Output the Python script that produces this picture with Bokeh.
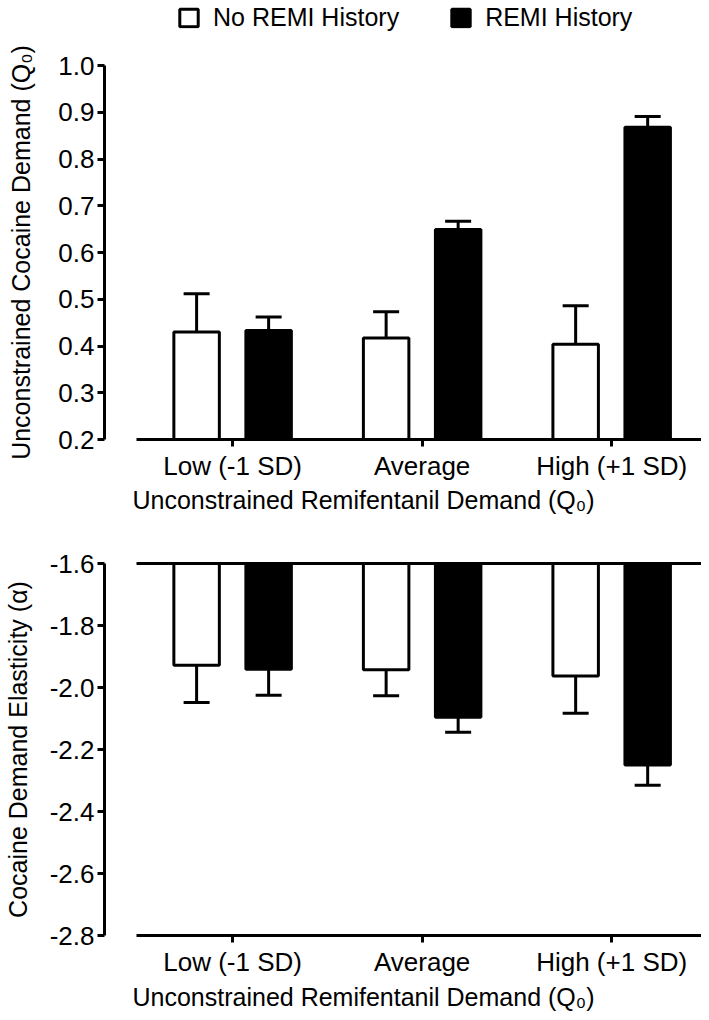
from bokeh.plotting import figure
from bokeh.layouts import column
from bokeh.models import (ColumnDataSource, Range1d, FixedTicker, PrintfTickFormatter,
                          Whisker, TeeHead, Legend, LegendItem, LinearAxis, Title)
from bokeh.transform import dodge
from bokeh.embed import file_html
from bokeh.resources import INLINE

# ---------------- data ----------------
categories = ["Low (-1 SD)", "Average", "High (+1 SD)"]
series = ["No REMI History", "REMI History"]

q0_no_remi = [0.430, 0.417, 0.404]
q0_no_remi_err = [0.082, 0.056, 0.082]
q0_remi = [0.433, 0.649, 0.868]
q0_remi_err = [0.029, 0.018, 0.023]

alpha_no_remi = [-1.928, -1.943, -1.963]
alpha_no_remi_err = [0.120, 0.084, 0.120]
alpha_remi = [-1.941, -2.096, -2.250]
alpha_remi_err = [0.084, 0.048, 0.065]

q0_ticks = [0.2, 0.3, 0.4, 0.5, 0.6, 0.7, 0.8, 0.9, 1.0]
alpha_ticks = [-2.8, -2.6, -2.4, -2.2, -2.0, -1.8, -1.6]

x_title = "Unconstrained Remifentanil Demand (Q\u2080)"
y_title_top = "Unconstrained Cocaine Demand (Q\u2080)"
y_title_bottom = "Cocaine Demand Elasticity (\u03b1)"

FONT = "Liberation Sans"
TICK_FS = "26px"
TITLE_FS = "25px"
LW = 3
OFF = 0.19
BAR_W = 0.24
X_START, X_END = -0.676, 2.474
AXIS_BOUNDS = (-0.505, 2.474)
W = 701

idx = list(range(len(categories)))
overrides = {i: c for i, c in zip(idx, categories)}


def style(p, y_ticks, y_title, label_standoff, title_standoff):
    p.outline_line_color = None
    p.grid.visible = False
    p.background_fill_color = "white"
    p.border_fill_color = "white"
    for ax in p.xaxis + p.yaxis:
        ax.axis_line_width = LW
        ax.axis_line_color = "black"
        ax.major_tick_line_width = LW
        ax.major_tick_line_color = "black"
        ax.major_tick_out = 7
        ax.major_tick_in = 0
        ax.minor_tick_line_color = None
        ax.major_label_text_font = FONT
        ax.major_label_text_font_size = TICK_FS
        ax.major_label_text_color = "black"
        ax.axis_label_text_font = FONT
        ax.axis_label_text_font_size = TITLE_FS
        ax.axis_label_text_font_style = "normal"
        ax.axis_label_text_color = "black"
        ax.major_label_standoff = 3
    p.xaxis.ticker = FixedTicker(ticks=idx)
    p.xaxis.major_label_overrides = overrides
    p.xaxis.bounds = AXIS_BOUNDS
    p.xaxis.major_label_standoff = 4
    p.xaxis.major_label_text_line_height = 1.0
    p.yaxis.ticker = FixedTicker(ticks=y_ticks)
    p.yaxis.formatter = PrintfTickFormatter(format="%.1f")
    p.yaxis.axis_label = y_title
    p.yaxis.axis_label_standoff = label_standoff
    p.add_layout(Title(text=x_title, align="left", offset=28, standoff=title_standoff,
                       text_font=FONT, text_font_size=TITLE_FS, text_font_style="normal",
                       text_line_height=1.0, text_color="black"), "below")


src_top = ColumnDataSource(dict(
    idx=idx,
    no=q0_no_remi, no_hi=[v + e for v, e in zip(q0_no_remi, q0_no_remi_err)],
    re=q0_remi, re_hi=[v + e for v, e in zip(q0_remi, q0_remi_err)],
))

# ---------------- legend header (hidden renderers only feed the legend glyphs) ----------------
p0 = figure(width=W, height=34, x_range=Range1d(X_START, X_END),
            y_range=Range1d(q0_ticks[0], q0_ticks[-1]),
            x_axis_type=None, y_axis_type=None,
            output_backend="svg", toolbar_location=None,
            min_border_left=0, min_border_right=0, min_border_top=0, min_border_bottom=0)
p0.outline_line_color = None
p0.grid.visible = False
g_no = p0.vbar(x=dodge("idx", -OFF), width=BAR_W, bottom=q0_ticks[0], top="no", source=src_top,
               fill_color="white", line_color="black", line_width=LW, visible=False)
g_re = p0.vbar(x=dodge("idx", OFF), width=BAR_W, bottom=q0_ticks[0], top="re", source=src_top,
               fill_color="black", line_color="black", line_width=LW, visible=False)
legend = Legend(items=[LegendItem(label=series[0], renderers=[g_no], index=0),
                       LegendItem(label=series[1], renderers=[g_re], index=0)],
                orientation="horizontal", location="center_left",
                padding=2, margin=73, spacing=50, label_standoff=13,
                glyph_width=23, glyph_height=22, label_height=21,
                label_text_font=FONT, label_text_font_size="25px", label_text_color="black",
                inactive_fill_alpha=0,
                background_fill_alpha=0, border_line_color=None)
p0.add_layout(legend)

# ---------------- top panel ----------------
p1 = figure(width=W, height=504, x_range=Range1d(X_START, X_END),
            y_range=Range1d(q0_ticks[0], q0_ticks[-1]),
            output_backend="svg", toolbar_location=None,
            min_border_left=103, min_border_right=0, min_border_top=31, min_border_bottom=99)

p1.vbar(x=dodge("idx", -OFF), width=BAR_W, bottom=q0_ticks[0], top="no", source=src_top,
        fill_color="white", line_color="black", line_width=LW)
p1.vbar(x=dodge("idx", OFF), width=BAR_W, bottom=q0_ticks[0], top="re", source=src_top,
        fill_color="black", line_color="black", line_width=LW)
p1.add_layout(Whisker(source=src_top, base=dodge("idx", -OFF), lower="no", upper="no_hi",
                      line_width=LW, line_color="black",
                      upper_head=TeeHead(size=26, line_width=LW, line_color="black"),
                      lower_head=None))
p1.add_layout(Whisker(source=src_top, base=dodge("idx", OFF), lower="re", upper="re_hi",
                      line_width=LW, line_color="black",
                      upper_head=TeeHead(size=26, line_width=LW, line_color="black"),
                      lower_head=None))
style(p1, q0_ticks, y_title_top, 20, 0)

# ---------------- bottom panel ----------------
src_bot = ColumnDataSource(dict(
    idx=idx,
    no=alpha_no_remi, no_lo=[v - e for v, e in zip(alpha_no_remi, alpha_no_remi_err)],
    re=alpha_remi, re_lo=[v - e for v, e in zip(alpha_remi, alpha_remi_err)],
))

p2 = figure(width=W, height=474, x_range=Range1d(X_START, X_END),
            y_range=Range1d(alpha_ticks[0], alpha_ticks[-1]),
            output_backend="svg", toolbar_location=None,
            min_border_left=103, min_border_right=0, min_border_top=25, min_border_bottom=77)

p2.vbar(x=dodge("idx", -OFF), width=BAR_W, top=alpha_ticks[-1], bottom="no", source=src_bot,
        fill_color="white", line_color="black", line_width=LW)
p2.vbar(x=dodge("idx", OFF), width=BAR_W, top=alpha_ticks[-1], bottom="re", source=src_bot,
        fill_color="black", line_color="black", line_width=LW)
p2.add_layout(Whisker(source=src_bot, base=dodge("idx", -OFF), lower="no_lo", upper="no",
                      line_width=LW, line_color="black",
                      lower_head=TeeHead(size=26, line_width=LW, line_color="black"),
                      upper_head=None))
p2.add_layout(Whisker(source=src_bot, base=dodge("idx", OFF), lower="re_lo", upper="re",
                      line_width=LW, line_color="black",
                      lower_head=TeeHead(size=26, line_width=LW, line_color="black"),
                      upper_head=None))
style(p2, alpha_ticks, y_title_bottom, 15, 2)

top_line = LinearAxis(ticker=FixedTicker(ticks=[]), bounds=AXIS_BOUNDS,
                      axis_line_width=LW, axis_line_color="black",
                      major_tick_out=0, major_tick_in=0, minor_tick_line_color=None,
                      major_label_text_font_size="0px")
p2.add_layout(top_line, "above")

layout = column(p0, p1, p2, spacing=0)
open("out.html", "w").write(file_html(layout, INLINE))
